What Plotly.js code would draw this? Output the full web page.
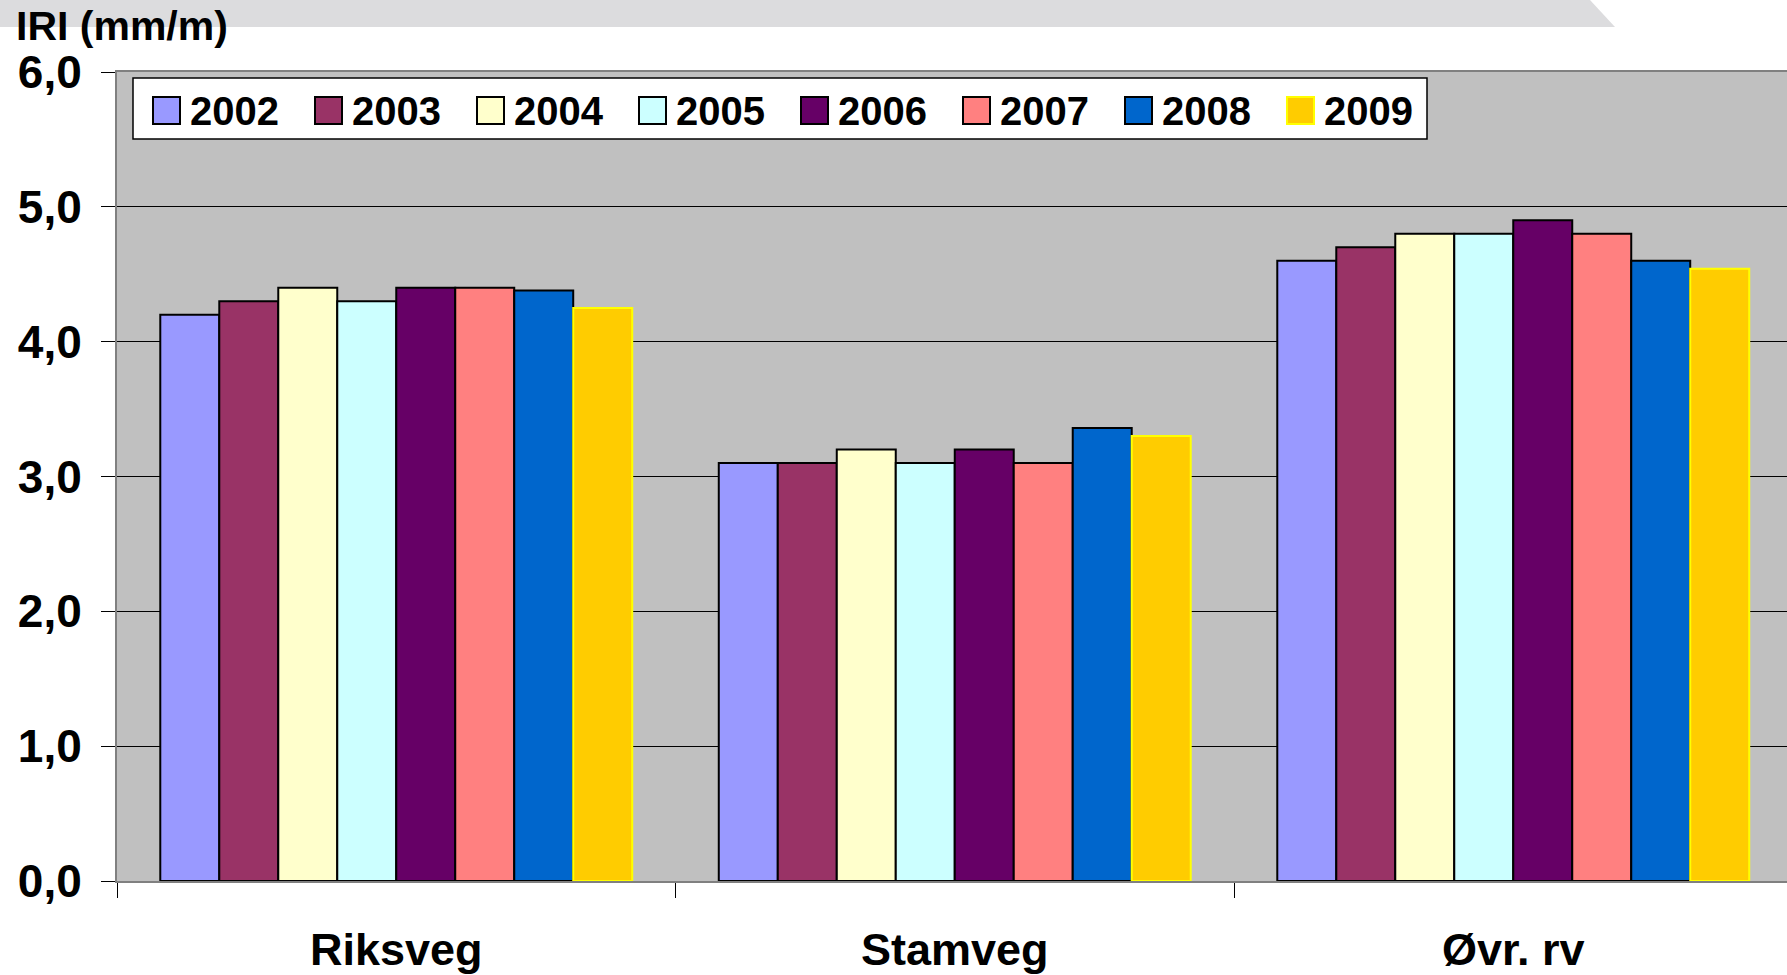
<!DOCTYPE html>
<html>
<head>
<meta charset="utf-8">
<script src="https://cdn.plot.ly/plotly-3.0.1.min.js"></script>
<style>html,body{margin:0;padding:0;background:#fff;}#chart{width:1787px;height:975px;}</style>
</head>
<body>
<div id="chart"></div>
<script>
// ---- data ----
const categories = ["Riksveg", "Stamveg", "Øvr. rv"];
const years = ["2002", "2003", "2004", "2005", "2006", "2007", "2008", "2009"];
const v2002 = [4.20, 3.10, 4.60];
const v2003 = [4.30, 3.10, 4.70];
const v2004 = [4.40, 3.20, 4.80];
const v2005 = [4.30, 3.10, 4.80];
const v2006 = [4.40, 3.20, 4.90];
const v2007 = [4.40, 3.10, 4.80];
const v2008 = [4.38, 3.36, 4.60];
const v2009 = [4.25, 3.30, 4.54];
const yTicks = [0, 1, 2, 3, 4, 5, 6];
const yAxisLabel = "IRI (mm/m)";

// ---- styles ----
const seriesValues = [v2002, v2003, v2004, v2005, v2006, v2007, v2008, v2009];
const fillColors = ["#9999FF", "#993366", "#FFFFCC", "#CCFFFF", "#660066", "#FF8080", "#0066CC", "#FFCC00"];
const edgeColors = ["#000000", "#000000", "#000000", "#000000", "#000000", "#000000", "#000000", "#FFFF00"];
const FONT = "Liberation Sans, Arial, sans-serif";

const W = 1787, H = 975;
const L = 117, R = 0, T = 72, B = 94;
const PW = W - L - R, PH = H - T - B;
const px = v => (v - L) / PW;          // pixel x -> paper x
const py = v => (H - B - v) / PH;      // pixel y -> paper y

const traces = years.map((yr, i) => ({
  type: "bar",
  name: yr,
  x: categories,
  y: seriesValues[i],
  marker: { color: fillColors[i], line: { color: edgeColors[i], width: 2 } },
  showlegend: false
}));

const shapes = [];
const annotations = [];

// top banner
shapes.push({
  type: "path", xref: "paper", yref: "paper", layer: "above",
  path: `M ${px(0)},${py(0)} L ${px(1590)},${py(0)} L ${px(1615)},${py(27)} L ${px(0)},${py(27)} Z`,
  fillcolor: "#DCDCDE", line: { width: 0 }
});

// legend box
shapes.push({
  type: "rect", xref: "paper", yref: "paper", layer: "above",
  x0: px(133), x1: px(1427), y0: py(139), y1: py(78),
  fillcolor: "#FFFFFF", line: { color: "#000000", width: 1.5 }
});
years.forEach((yr, i) => {
  const sx = 153 + i * 162;
  shapes.push({
    type: "rect", xref: "paper", yref: "paper", layer: "above",
    x0: px(sx), x1: px(sx + 27), y0: py(124), y1: py(97),
    fillcolor: fillColors[i], line: { color: edgeColors[i] === "#FFFF00" ? "#FFFF00" : "#000000", width: 2 }
  });
  annotations.push({
    xref: "paper", yref: "paper", x: px(sx + 35), y: py(111),
    xanchor: "left", yanchor: "middle", showarrow: false,
    text: yr, font: { family: FONT, size: 40, color: "#000", weight: "bold" }
  });
});

// y axis label
annotations.push({
  xref: "paper", yref: "paper", x: px(14), y: py(26),
  xanchor: "left", yanchor: "middle", showarrow: false,
  text: yAxisLabel, font: { family: FONT, size: 41, color: "#000", weight: "bold" }
});

const layout = {
  width: W, height: H,
  margin: { l: L, r: R, t: T, b: B, pad: 0 },
  paper_bgcolor: "#FFFFFF",
  plot_bgcolor: "#C0C0C0",
  separators: ", ",
  barmode: "group",
  bargap: 0.155,
  bargroupgap: 0,
  showlegend: false,
  xaxis: {
    type: "category",
    range: [-0.5, -0.5 + PW / 558.5],
    showgrid: false,
    showline: true, linecolor: "#808080", linewidth: 2, mirror: true,
    ticks: "outside", tickson: "boundaries", ticklen: 15, tickcolor: "#000", tickwidth: 1,
    ticklabelstandoff: 28,
    tickfont: { family: FONT, size: 45, color: "#000", weight: "bold" },
    fixedrange: true
  },
  yaxis: {
    range: [0, 6],
    tickvals: yTicks,
    tickformat: ".1f",
    showgrid: true, gridcolor: "#000000", gridwidth: 1,
    zeroline: false,
    showline: true, linecolor: "#808080", linewidth: 2,
    ticks: "outside", ticklen: 14, tickcolor: "#000", tickwidth: 1,
    ticklabelstandoff: 10,
    tickfont: { family: FONT, size: 46, color: "#000", weight: "bold" },
    fixedrange: true
  },
  shapes: shapes,
  annotations: annotations
};

Plotly.newPlot("chart", traces, layout, { staticPlot: true, displayModeBar: false });
</script>
</body>
</html>
